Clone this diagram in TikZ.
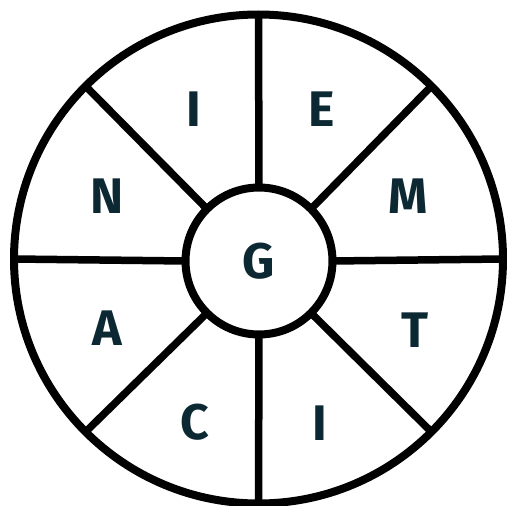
\documentclass[tikz,border=0pt]{standalone}
\usepackage{fontspec}
\setmainfont{Fira Sans}
\definecolor{ink}{RGB}{12,41,51}
\begin{document}
\begin{tikzpicture}[x=1pt, y=-1pt,
  ring/.style={draw, circle, line width=8pt, outer sep=0pt, inner sep=0pt, minimum size=#1},
  lett/.style={font=\fontsize{50}{60}\selectfont\bfseries, text=ink, inner sep=0pt},
  spoke/.style={line width=7.5pt}
]
  \useasboundingbox (0,0) rectangle (507,506);

  %-- Cercles
  \node[ring=489pt]      (rim) at (258.5,259) {};
  \node[ring=147pt,lett] (hub) at (259,261)   {G};

  %-- Rayons
  \foreach \a in {0,45,...,315}
    \draw[spoke] (hub.\a) -- (rim.\a);

  %-- Lettres
  \node[lett] (iup)  at (193.5,109)   {I};
  \node[lett] (e)    at (321.5,109)   {E};
  \node[lett] (n)    at (107,196.5)   {N};
  \node[lett] (m)    at (408,196)     {M};
  \node[lett] (a)    at (107,328.5)   {A};
  \node[lett] (t)    at (414.5,330.5) {T};
  \node[lett] (c)    at (194.5,422.5) {C};
  \node[lett] (idn)  at (320,423)     {I};
\end{tikzpicture}
\end{document}
